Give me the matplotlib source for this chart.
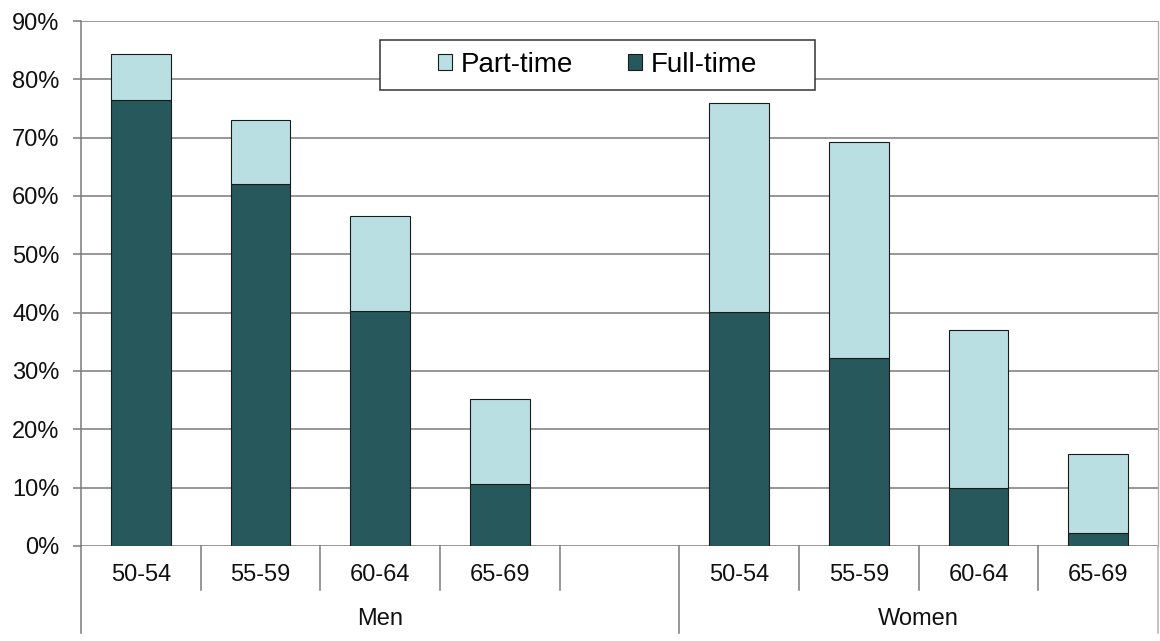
import matplotlib
matplotlib.use("Agg")
import matplotlib.pyplot as plt
from matplotlib.patches import Rectangle
from matplotlib.ticker import PercentFormatter, MultipleLocator

# --- dati (percentuali) ------------------------------------------------------
ages = ["50-54", "55-59", "60-64", "65-69"]
groups = ["Men", "Women"]
men_full = [76.4, 62.1, 40.3, 10.6]
men_part = [7.9, 11.0, 16.3, 14.6]
women_full = [40.1, 32.2, 9.9, 2.2]
women_part = [35.9, 37.0, 27.1, 13.5]

DARK = "#27585c"
LIGHT = "#b9dfe2"
GRID = "#7a7a7a"
plt.rcParams["font.family"] = ["Liberation Sans", "DejaVu Sans"]

# posizioni: 4 barre uomini, uno slot vuoto, 4 barre donne
men_x = [0, 1, 2, 3]
women_x = [5, 6, 7, 8]
xs = men_x + women_x
full = men_full + women_full
part = men_part + women_part

fig = plt.figure(figsize=(11.6, 6.41), dpi=100)
ax = fig.add_axes([81 / 1160, 1 - 546 / 641, 1077 / 1160, 525 / 641])

ax.bar(xs, full, width=0.5, color=DARK, edgecolor="#1a1a1a", lw=0.8,
       label="Full-time", zorder=3)
ax.bar(xs, part, width=0.5, bottom=full, color=LIGHT, edgecolor="#1a1a1a",
       lw=0.8, label="Part-time", zorder=3)

ax.set_xlim(-0.5, 8.5)
ax.set_ylim(0, 90)
ax.yaxis.set_major_locator(MultipleLocator(10))
ax.yaxis.set_major_formatter(PercentFormatter(decimals=0))
ax.yaxis.grid(True, color=GRID, lw=1.1, zorder=0)
ax.tick_params(axis="y", length=5.5, width=1.1, color=GRID, pad=10,
               labelsize=17, labelcolor="#111111")
ax.set_xticks([])
for s in ["top", "bottom"]:
    ax.spines[s].set_visible(False)
ax.spines["left"].set_color(GRID)
ax.spines["left"].set_linewidth(1.1)
ax.spines["right"].set_color("#b0b0b0")
ax.spines["right"].set_linewidth(1.0)

# asse x gerarchico: categorie + gruppi
tr = ax.get_xaxis_transform()
short_h = -44 / 525
long_h = -87 / 525
for b in [0.5, 1.5, 2.5, 3.5, 5.5, 6.5, 7.5]:
    ax.plot([b, b], [0, short_h], transform=tr, color=GRID, lw=1.1,
            clip_on=False)
for b, c in [(-0.5, GRID), (4.5, GRID), (8.5, "#b0b0b0")]:
    ax.plot([b, b], [0, long_h], transform=tr, color=c, lw=1.1, clip_on=False)
for x, lab in zip(xs, ages + ages):
    ax.text(x, -29 / 525, lab, transform=tr, ha="center", va="center",
            fontsize=17, color="#111111")
ax.text(2.0, -73 / 525, groups[0], transform=tr, ha="center", va="center",
        fontsize=17, color="#111111")
ax.text(6.5, -73 / 525, groups[1], transform=tr, ha="center", va="center",
        fontsize=17, color="#111111")

# legenda: riquadro disegnato a parte, voci centrate
x0, x1 = (380 - 81) / 1077, (815 - 81) / 1077
y0, y1 = (546 - 90) / 525, (546 - 40) / 525
ax.add_patch(Rectangle((x0, y0), x1 - x0, y1 - y0, transform=ax.transAxes,
                       facecolor="white", edgecolor="#333333", lw=1.1,
                       zorder=5, clip_on=False))
h, l = ax.get_legend_handles_labels()
leg = ax.legend(h[::-1], l[::-1], loc="center",
                bbox_to_anchor=((x0 + x1) / 2, (y0 + y1) / 2), ncol=2,
                frameon=False, fontsize=20, handlelength=0.5,
                handleheight=0.5, handletextpad=0.3, columnspacing=2.0)
leg.set_zorder(6)

fig.savefig("out.png", dpi=100)
